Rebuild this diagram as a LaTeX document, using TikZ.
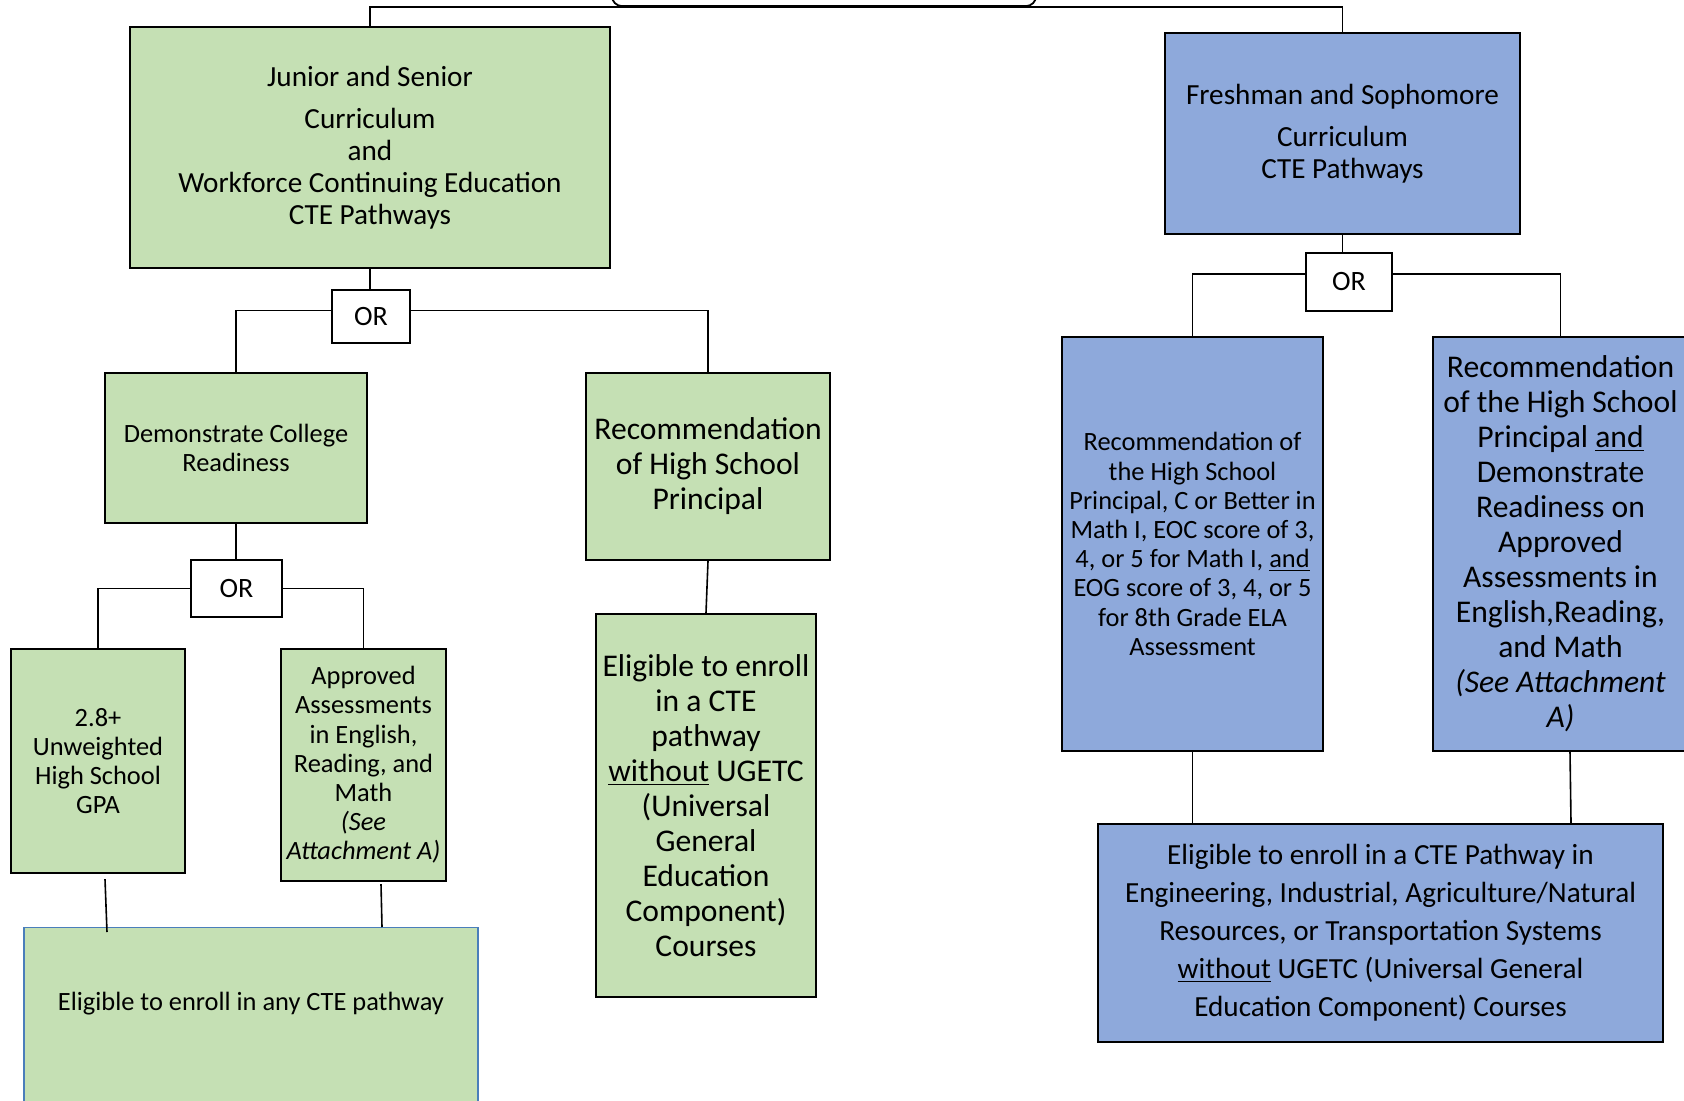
\documentclass[tikz,border=0pt]{standalone}
\usepackage{fontspec}
\setmainfont{Carlito}
\usepackage{tikz}
\definecolor{lgreen}{HTML}{C5E0B4}
\definecolor{lblue}{HTML}{8EA9DB}
\definecolor{edgeblue}{HTML}{4A7EBB}

\begin{document}
\begin{tikzpicture}[x=1pt, y=-1pt, thick,
    gbox/.style = {draw, line width=1.1pt, fill=lgreen, align=center, inner sep=2pt},
    bbox/.style = {draw, line width=1.1pt, fill=lblue, align=center, inner sep=2pt},
    orbox/.style = {draw, line width=0.8pt, fill=white, font={\fontsize{14}{16}\selectfont}},
    txtl/.style = {font={\fontsize{15.8}{17.5}\selectfont}},
    txtm/.style = {font={\fontsize{14.6}{16}\selectfont}},
    txte/.style = {font={\fontsize{14.6}{19}\selectfont}},
    txts/.style = {font={\fontsize{13.2}{14.6}\selectfont}},
    conn/.style = {line width=0.8pt}]
    \useasboundingbox (0,0) rectangle (842,550.5);
    \clip (0,0) rectangle (842,550.5);
    \node[draw, line width=0.9pt, fill=white, rounded corners=5pt, minimum width=212pt, minimum height=40pt, anchor=south] (head) at (412,3.5) {};
    \node[gbox, txtm, minimum width=240pt, minimum height=120.5pt] (jun) at (185,73.75) {Junior and Senior\\[5pt] Curriculum\\ and\\ Workforce Continuing Education\\ CTE Pathways};
    \node[orbox, minimum width=39pt, minimum height=26.5pt] (or1) at (185.5,158.25) {OR};
    \node[gbox, txts, minimum width=131pt, minimum height=75pt] (dem) at (118,224) {Demonstrate College\\ Readiness};
    \node[gbox, txtl, minimum width=122pt, minimum height=93.5pt] (rec) at (354,233.25) {Recommendation\\ of High School\\ Principal};
    \node[orbox, minimum width=45.5pt, minimum height=28.5pt] (or2) at (118.25,294.25) {OR};
    \node[gbox, txts, minimum width=87pt, minimum height=112pt] (gpa) at (49,380.5) {2.8+\\ Unweighted\\ High School\\ GPA};
    \node[gbox, txts, minimum width=82.5pt, minimum height=116pt] (app) at (181.75,382.5) {Approved\\ Assessments\\ in English,\\ Reading, and\\ Math\\ \textit{(See}\\ \textit{Attachment A)}};
    \node[gbox, draw=edgeblue, line width=0.7pt, minimum width=227pt, minimum height=110pt, anchor=north] (any) at (125.5,463.5) {};
    \node[txts] (anytxt) at (125.5,502) {Eligible to enroll in any CTE pathway};
    \node[gbox, txtl, minimum width=110pt, minimum height=191.5pt] (elig) at (353,402.75) {Eligible to enroll\\ in a CTE\\ pathway\\ \underline{without} UGETC\\ (Universal\\ General\\ Education\\ Component)\\ Courses};
    \node[bbox, txtm, minimum width=177.5pt, minimum height=100.5pt] (fre) at (671.25,66.75) {Freshman and Sophomore\\[5pt] Curriculum\\ CTE Pathways};
    \node[orbox, minimum width=43pt, minimum height=29pt] (or3) at (674.5,141) {OR};
    \node[bbox, txts, minimum width=130.5pt, minimum height=207pt] (prin) at (596.25,272) {Recommendation of\\ the High School\\ Principal, C or Better in\\ Math I, EOC score of 3,\\ 4, or 5 for Math I, \underline{and}\\ EOG score of 3, 4, or 5\\ for 8th Grade ELA\\ Assessment};
    \node[bbox, txtl, minimum width=127.5pt, minimum height=207pt] (ready) at (780.25,272) {Recommendation\\ of the High School\\ Principal \underline{and}\\ Demonstrate\\ Readiness on\\ Approved\\ Assessments in\\ English,Reading,\\ and Math\\ \textit{(See Attachment}\\ \textit{A)}};
    \node[bbox, txte, minimum width=282.5pt, minimum height=109pt] (epath) at (690.25,466.5) {Eligible to enroll in a CTE Pathway in\\ Engineering, Industrial, Agriculture/Natural\\ Resources, or Transportation Systems\\ \underline{without} UGETC (Universal General\\ Education Component) Courses};
    \draw[conn] (jun.north) |- (head.south) -| (fre.north);
    \draw[conn] (jun.south) -- (jun.south |- or1.north);
    \draw[conn] ([yshift=3pt]or1.west) -| (dem.north);
    \draw[conn] ([yshift=3pt]or1.east) -| (rec.north);
    \draw[conn] (dem.south) -- (dem.south |- or2.north);
    \draw[conn] (or2.west) -| (gpa.north);
    \draw[conn] (or2.east) -| (app.north);
    \draw[conn] ([xshift=3.5pt,yshift=-2.5pt]gpa.south) -- ([xshift=-72pt,yshift=-2.5pt]any.north);
    \draw[conn] ([xshift=8.75pt,yshift=-1pt]app.south) -- ([xshift=65.5pt]any.north);
    \draw[conn] (rec.south) -- (elig.north);
    \draw[conn] (fre.south) -- (fre.south |- or3.north);
    \draw[conn] ([yshift=4pt]or3.west) -| (prin.north);
    \draw[conn] ([yshift=4pt]or3.east) -| (ready.north);
    \draw[conn] (prin.south) -- (prin.south |- epath.north);
    \draw[conn] ([xshift=4.75pt]ready.south) -- ([xshift=95.25pt]epath.north);
\end{tikzpicture}
\end{document}
